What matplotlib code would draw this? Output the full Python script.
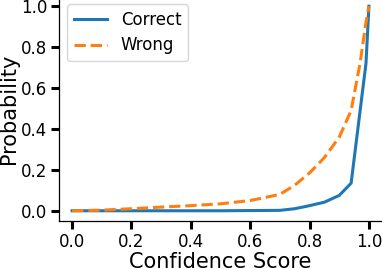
import matplotlib
matplotlib.use("Agg")
import matplotlib.pyplot as plt

# confidence bins and per-class probabilities
conf_correct = [0.0, 0.1, 0.2, 0.3, 0.4, 0.5, 0.6, 0.7, 0.75, 0.8, 0.85, 0.9, 0.94, 0.99, 1.0]
prob_correct = [0.0, 0.0, 0.0, 0.0, 0.0, 0.0, 0.001, 0.002, 0.01, 0.025, 0.042, 0.075, 0.135, 0.72, 1.0]

conf_wrong = [0.0, 0.1, 0.2, 0.3, 0.4, 0.5, 0.6, 0.7, 0.75, 0.8, 0.85, 0.9, 0.94, 0.97, 0.99, 1.0]
prob_wrong = [0.0, 0.003, 0.01, 0.018, 0.025, 0.034, 0.05, 0.08, 0.125, 0.185, 0.26, 0.36, 0.49, 0.72, 0.92, 1.0]

fig = plt.figure(figsize=(3.82, 2.68), dpi=100)
ax = fig.add_axes([0.1545, 0.1754, 0.8455, 0.8396])

ax.plot(conf_correct, prob_correct, color="#1f77b4", linewidth=2.2, label="Correct")
ax.plot(conf_wrong, prob_wrong, color="#ff7f0e", linewidth=2.2, linestyle="--", label="Wrong")

ax.set_xlim(-0.044, 1.044)
ax.set_ylim(-0.05, 1.05)
ax.set_xticks([0.0, 0.2, 0.4, 0.6, 0.8, 1.0])
ax.set_yticks([0.0, 0.2, 0.4, 0.6, 0.8, 1.0])
ax.tick_params(labelsize=12, width=2.2, length=5.5, pad=3)

ax.set_xlabel("Confidence Score", fontsize=15, labelpad=1)
ax.set_ylabel("Probability", fontsize=15, labelpad=1)

for side in ["top", "right"]:
    ax.spines[side].set_visible(False)
for side in ["left", "bottom"]:
    ax.spines[side].set_linewidth(0.9)

ax.legend(loc="upper left", fontsize=12, bbox_to_anchor=(0.0, 1.0), labelspacing=0.45)

fig.savefig("out.png", dpi=100)
plt.close()
